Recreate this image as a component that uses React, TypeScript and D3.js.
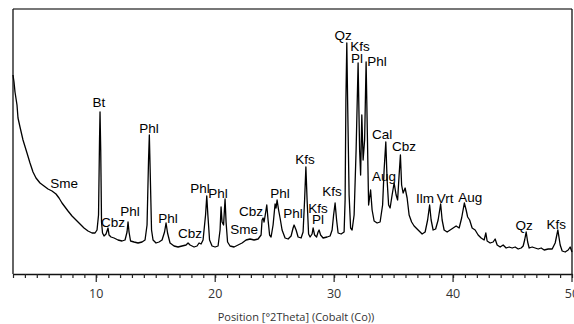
import React, { useEffect, useRef } from "react";
import * as d3 from "d3";

// XRD scan: position (°2θ, Co) and counts
const twoTheta = [
  3.0, 3.084, 3.168, 3.336, 3.421, 3.589, 3.841, 4.177, 4.43, 4.682, 4.934, 5.271, 5.607, 5.944, 6.28,
  6.616, 6.869, 7.121, 7.373, 7.626, 7.962, 8.299, 8.635, 8.971, 9.308, 9.644, 9.897, 10.065, 10.191,
  10.275, 10.317, 10.376, 10.443, 10.528, 10.654, 10.822, 10.99, 11.074, 11.242, 11.495, 11.831, 12.167,
  12.42, 12.588, 12.672, 12.756, 12.882, 13.177, 13.513, 13.85, 14.102, 14.27, 14.396, 14.463, 14.522,
  14.648, 14.775, 15.027, 15.279, 15.532, 15.742, 15.868, 15.994, 16.204, 16.541, 16.877, 17.214, 17.55,
  17.718, 17.886, 18.223, 18.475, 18.643, 18.812, 18.98, 19.19, 19.291, 19.384, 19.527, 19.737, 19.989,
  20.241, 20.41, 20.494, 20.578, 20.704, 20.83, 20.914, 21.04, 21.25, 21.587, 21.923, 22.26, 22.596,
  22.933, 23.269, 23.606, 23.858, 23.942, 24.026, 24.11, 24.194, 24.337, 24.447, 24.573, 24.699, 24.867,
  25.035, 25.119, 25.204, 25.33, 25.456, 25.624, 25.876, 26.129, 26.381, 26.549, 26.633, 26.802, 26.97,
  27.222, 27.39, 27.517, 27.626, 27.727, 27.853, 27.979, 28.147, 28.231, 28.357, 28.526, 28.652, 28.736,
  28.862, 29.072, 29.409, 29.661, 29.83, 29.956, 30.082, 30.208, 30.334, 30.587, 30.839, 30.923, 30.99,
  31.066, 31.133, 31.259, 31.386, 31.512, 31.68, 31.848, 32.016, 32.143, 32.227, 32.328, 32.437, 32.563,
  32.689, 32.773, 32.899, 33.067, 33.194, 33.362, 33.614, 33.866, 34.076, 34.202, 34.345, 34.455, 34.581,
  34.707, 34.875, 35.044, 35.212, 35.338, 35.464, 35.573, 35.674, 35.8, 35.969, 36.137, 36.305, 36.516,
  36.726, 37.062, 37.399, 37.651, 37.861, 38.029, 38.156, 38.324, 38.534, 38.744, 38.955, 39.081, 39.249,
  39.501, 39.754, 40.006, 40.258, 40.511, 40.721, 40.948, 41.1, 41.226, 41.394, 41.604, 41.856, 42.109,
  42.361, 42.613, 42.756, 42.865, 43.118, 43.37, 43.538, 43.706, 43.959, 44.211, 44.463, 44.716, 44.968,
  45.22, 45.473, 45.725, 45.893, 46.019, 46.146, 46.272, 46.398, 46.65, 46.903, 47.155, 47.407, 47.66,
  47.996, 48.333, 48.585, 48.812, 49.006, 49.174, 49.426, 49.678, 49.846, 50.0,
];

const counts = [
  1990, 1920, 1820, 1690, 1560, 1470, 1340, 1210, 1110, 1020, 960, 910, 880, 850, 830,
  800, 760, 710, 670, 630, 580, 540, 500, 460, 430, 410, 410, 440, 590,
  1340, 1620, 1240, 520, 410, 380, 400, 460, 390, 370, 360, 340, 330,
  340, 420, 520, 420, 330, 320, 310, 320, 340, 490, 1140, 1390, 1090,
  440, 340, 310, 320, 340, 420, 510, 410, 310, 280, 270, 280, 290,
  310, 290, 270, 280, 310, 300, 340, 590, 780, 590, 340, 280, 270,
  280, 440, 670, 520, 490, 750, 520, 320, 280, 270, 290, 310, 340,
  350, 340, 350, 390, 540, 560, 520, 580, 690, 540, 390, 370,
  490, 700, 660, 740, 640, 560, 440, 360, 350, 380, 460, 490, 440, 370,
  360, 420, 740, 1070, 740, 400, 370, 400, 460, 390, 370, 420, 440,
  390, 360, 370, 380, 440, 590, 710, 540, 410, 400, 420, 740, 1740,
  2310, 1740, 790, 460, 440, 590, 1240, 2110, 1240, 990, 1590, 1140, 1340,
  2120, 1540, 690, 840, 640, 530, 510, 520, 690, 1040, 1320, 940, 690,
  660, 790, 910, 790, 740, 990, 1190, 890, 810, 860, 760, 590, 520,
  480, 440, 400, 420, 540, 690, 540, 440, 450, 540, 700, 540, 440,
  420, 440, 460, 480, 460, 560, 710, 640, 570, 540, 460, 440, 390,
  360, 340, 410, 330, 310, 320, 350, 290, 270, 290, 260, 270, 260,
  270, 250, 260, 280, 340, 420, 320, 260, 270, 260, 250, 260, 240,
  250, 250, 310, 440, 290, 230, 220, 240, 270, 220,
];

// peak labels: phase, position (°2θ) and label height (counts)
const peakNames = [
  "Sme", "Bt", "Cbz", "Phl", "Phl", "Phl", "Cbz", "Phl", "Phl", "Sme", "Cbz", "Phl", "Phl", "Kfs",
  "Kfs", "Pl", "Kfs", "Qz", "Kfs", "Pl", "Phl", "Cal", "Cbz", "Aug", "Ilm", "Vrt", "Aug", "Qz", "Kfs",
];
const peakAngles = [
  7.29, 10.23, 11.41, 12.84, 14.44, 16.04, 17.89, 18.73, 20.24, 22.43, 23.02, 25.46, 26.55, 27.56,
  28.65, 28.65, 29.83, 30.75, 32.18, 31.93, 33.61, 34.03, 35.88, 34.2, 37.65, 39.33, 41.44, 45.98, 48.67,
];
const labelCounts = [
  860, 1670, 470, 580, 1410, 510, 360, 810, 760, 400, 580, 760, 560, 1100,
  610, 500, 780, 2340, 2230, 2110, 2080, 1350, 1230, 930, 710, 710, 720, 440, 450,
];

const majorTicks = [10, 20, 30, 40, 50];

const W = 574;
const H = 324;

const XrdPattern: React.FC = () => {
  const svgRef = useRef<SVGSVGElement | null>(null);

  useEffect(() => {
    const left = 13;
    const right = 572;
    const top = 9;
    const bottom = 274;

    const x = d3.scaleLinear().domain([3, 50]).range([left, right]);
    const y = d3.scaleLinear().domain([0, 2650]).range([bottom, top]);

    const svg = d3.select(svgRef.current);
    svg.selectAll("*").remove();

    // frame
    svg
      .append("line")
      .attr("x1", left)
      .attr("x2", right)
      .attr("y1", top)
      .attr("y2", top)
      .attr("stroke", "#777")
      .attr("stroke-width", 2);
    svg
      .append("line")
      .attr("x1", left)
      .attr("x2", left)
      .attr("y1", top)
      .attr("y2", bottom)
      .attr("stroke", "#111")
      .attr("stroke-width", 1.3);
    svg
      .append("line")
      .attr("x1", right)
      .attr("x2", right)
      .attr("y1", top)
      .attr("y2", bottom)
      .attr("stroke", "#111")
      .attr("stroke-width", 1.3);

    // x axis with a tick every degree
    const axis = d3
      .axisBottom(x)
      .tickValues(d3.range(3, 51))
      .tickSize(4)
      .tickSizeOuter(0)
      .tickFormat(() => "");
    const ax = svg
      .append("g")
      .attr("transform", `translate(0,${bottom})`)
      .call(axis);
    ax.select(".domain").attr("stroke", "#111").attr("stroke-width", 1.3);
    ax.selectAll(".tick line").attr("stroke", "#222").attr("stroke-width", 1.2);

    const major = svg.append("g").attr("transform", `translate(0,${bottom})`);
    major
      .selectAll("line")
      .data(majorTicks)
      .enter()
      .append("line")
      .attr("x1", (d) => x(d))
      .attr("x2", (d) => x(d))
      .attr("y1", 0)
      .attr("y2", 8)
      .attr("stroke", "#222")
      .attr("stroke-width", 1.2);
    major
      .selectAll("text")
      .data(majorTicks)
      .enter()
      .append("text")
      .attr("x", (d) => x(d))
      .attr("y", 24)
      .attr("text-anchor", "middle")
      .style("font-family", "'Open Sans', sans-serif")
      .style("font-size", "12.5px")
      .style("fill", "#333")
      .text((d) => d);

    svg
      .append("text")
      .attr("x", 296)
      .attr("y", 321)
      .attr("text-anchor", "middle")
      .style("font-family", "'Open Sans', sans-serif")
      .style("font-size", "11px")
      .style("fill", "#333")
      .text("Position [°2Theta] (Cobalt (Co))");

    // scan
    const pts = twoTheta.map((t, i) => [t, counts[i]] as [number, number]);
    const line = d3
      .line<[number, number]>()
      .x((d) => x(d[0]))
      .y((d) => y(d[1]));
    svg
      .append("path")
      .datum(pts)
      .attr("d", line)
      .attr("fill", "none")
      .attr("stroke", "#000")
      .attr("stroke-width", 1.3)
      .attr("stroke-linejoin", "round");

    // phase labels
    svg
      .append("g")
      .selectAll("text")
      .data(peakNames)
      .enter()
      .append("text")
      .attr("x", (d, i) => x(peakAngles[i]))
      .attr("y", (d, i) => y(labelCounts[i]))
      .attr("text-anchor", "middle")
      .style("font-family", "'Liberation Sans', Arial, sans-serif")
      .style("font-size", "13.5px")
      .style("fill", "#000")
      .text((d) => d);
  }, []);

  return (
    <svg
      ref={svgRef}
      width={W}
      height={H}
      style={{ position: "absolute", left: 0, top: 0, background: "#fff" }}
    ></svg>
  );
};

export default function App() {
  return <XrdPattern />;
}
